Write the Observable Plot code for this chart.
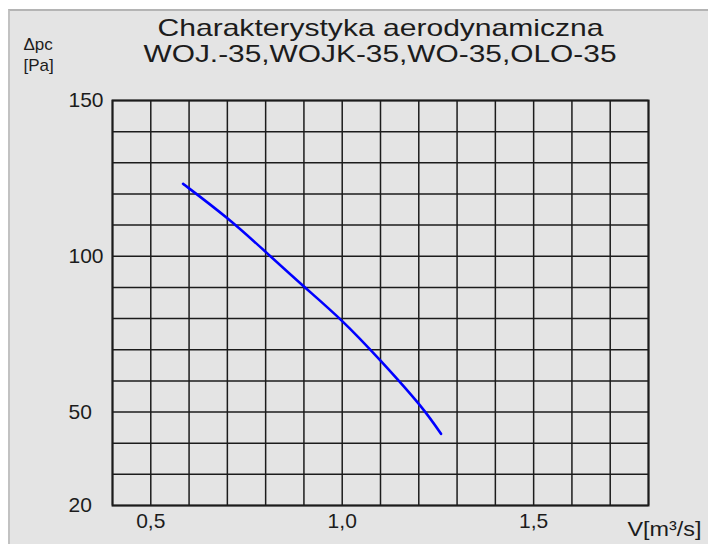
<!DOCTYPE html>
<html>
<head>
<meta charset="utf-8">
<script src="https://cdn.jsdelivr.net/npm/d3@7"></script>
<script src="https://cdn.jsdelivr.net/npm/@observablehq/plot@0.6"></script>
<style>
  html, body { margin: 0; padding: 0; background: #ffffff; }
  #wrap { position: relative; width: 708px; height: 544px; overflow: hidden; }
  #panel { position: absolute; left: 8px; top: 9px; right: 0; bottom: 0;
           background: #e4e4e4; border-left: 2px solid #c2c2c2; border-top: 2px solid #b4b4b4; }
  #chart { position: absolute; left: 0; top: 0; }
</style>
</head>
<body>
<div id="wrap"><div id="panel"></div><div id="chart"></div></div>
<script>
// Data
const flow = [0.587, 0.6, 0.7, 0.8, 0.9, 1.0, 1.1, 1.2, 1.258];       // V [m3/s]
const pressure = [123, 121.8, 112.2, 101.4, 90.3, 79.2, 66.5, 52.6, 43]; // Δpc [Pa]

const xGrid = [0.4, 0.5, 0.6, 0.7, 0.8, 0.9, 1.0, 1.1, 1.2, 1.3, 1.4, 1.5, 1.6, 1.7, 1.8];
const yGrid = [20, 30, 40, 50, 60, 70, 80, 90, 100, 110, 120, 130, 140, 150];
const xTicks = [0.5, 1.0, 1.5];
const yTicks = [20, 50, 100, 150];

const titleLines = ["Charakterystyka aerodynamiczna", "WOJ.-35,WOJK-35,WO-35,OLO-35"];
const yLabelLines = ["Δpc", "[Pa]"];
const xLabel = "V[m³/s]";

const curve = flow.map((v, i) => ({v, p: pressure[i]}));

const ink = "#1c1c1c";
const font = "'Liberation Sans', Arial, Helvetica, sans-serif";

const svg = Plot.plot({
  width: 708,
  height: 544,
  marginLeft: 112,
  marginRight: 60,
  marginTop: 100,
  marginBottom: 39,
  style: { background: "transparent", fontFamily: font, color: ink },
  x: { domain: [0.4, 1.8] },
  y: { domain: [20, 150] },
  marks: [
    Plot.gridX(xGrid, { stroke: ink, strokeOpacity: 1, strokeWidth: 1.5 }),
    Plot.gridY(yGrid, { stroke: ink, strokeOpacity: 1, strokeWidth: 1.5 }),
    Plot.frame({ stroke: ink, strokeWidth: 2 }),
    Plot.line(curve, { x: "v", y: "p", stroke: "#0000ff", strokeWidth: 2.6, curve: "natural" }),
    Plot.axisY({ ticks: yTicks, tickSize: 0, tickPadding: 0, textAnchor: "start", dx: -44,
                 fontSize: 21, label: null, fill: ink }),
    Plot.axisX({ ticks: xTicks, tickSize: 0, tickPadding: 8, fontSize: 21, label: null, fill: ink,
                 tickFormat: d => d.toFixed(1).replace(".", ",") }),
    Plot.text([titleLines[0]], { text: d => d, frameAnchor: "top-left", textAnchor: "start",
                 lineAnchor: "middle", dx: 45, dy: -72.5, fontSize: 24, fill: ink }),
    Plot.text([titleLines[1]], { text: d => d, frameAnchor: "top-left", textAnchor: "start",
                 lineAnchor: "middle", dx: 31, dy: -46.5, fontSize: 24, fill: ink }),
    Plot.text([yLabelLines[0]], { text: d => d, frameAnchor: "top-left", textAnchor: "start",
                 lineAnchor: "middle", dx: -89, dy: -56, fontSize: 17, fill: ink }),
    Plot.text([yLabelLines[1]], { text: d => d, frameAnchor: "top-left", textAnchor: "start",
                 lineAnchor: "middle", dx: -89, dy: -35, fontSize: 17, fill: ink }),
    Plot.text([xLabel], { text: d => d, frameAnchor: "bottom-right", textAnchor: "end",
                 lineAnchor: "middle", dx: 53, dy: 24, fontSize: 21, fill: ink })
  ]
});

// stretch title lines horizontally like the original
const widths = { [titleLines[0]]: 446, [titleLines[1]]: 473, [xLabel]: 74 };
svg.querySelectorAll("text").forEach(t => {
  const w = widths[t.textContent];
  if (w) { t.setAttribute("textLength", w); t.setAttribute("lengthAdjust", "spacingAndGlyphs"); }
});

document.getElementById("chart").appendChild(svg);
</script>
</body>
</html>
